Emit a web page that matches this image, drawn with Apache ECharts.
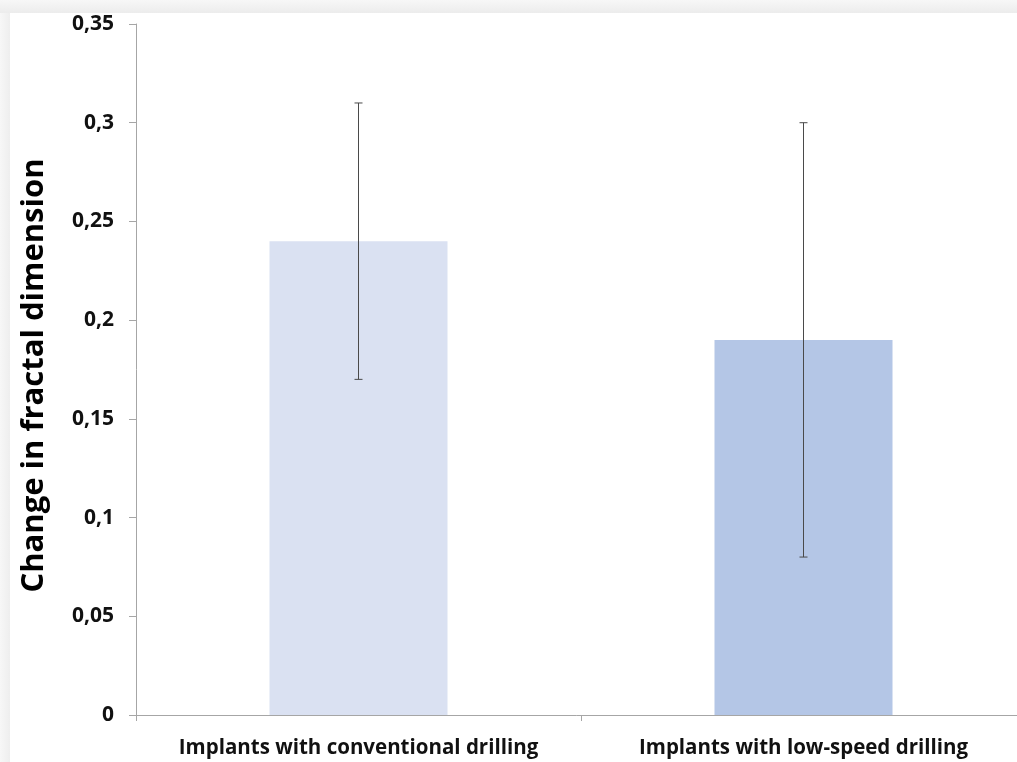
<!DOCTYPE html>
<html>
<head>
<meta charset="utf-8">
<script src="https://cdn.jsdelivr.net/npm/echarts@6/dist/echarts.min.js"></script>
<style>
html,body{margin:0;padding:0;background:#fff;}
#c{width:1017px;height:762px;}
</style>
</head>
<body>
<div id="c"></div>
<script>
const categories = ["Implants with conventional drilling", "Implants with low-speed drilling"];
const means = [0.24, 0.19];
const errLow = [0.17, 0.08];
const errHigh = [0.31, 0.30];
const barColors = ["#dae1f2", "#b4c6e6"];
const yTitle = "Change in fractal dimension";

const chart = echarts.init(document.getElementById('c'));
const font = "'Open Sans', 'DejaVu Sans', sans-serif";
chart.setOption({
  backgroundColor: '#ffffff',
  animation: false,
  graphic: [
    {type:'rect', shape:{x:0,y:0,width:1017,height:13}, style:{fill:new echarts.graphic.LinearGradient(0,0,0,1,[{offset:0,color:'#f7f7f7'},{offset:1,color:'#ececec'}])}, z:-1},
    {type:'rect', shape:{x:0,y:13,width:10,height:749}, style:{fill:new echarts.graphic.LinearGradient(0,0,1,0,[{offset:0,color:'#f7f7f7'},{offset:1,color:'#eeeeee'}])}, z:-1}
  ],
  grid: {left:136, top:24, width:890, bottom:47, containLabel:false, outerBoundsMode:'none'},
  xAxis: {
    type:'category', data:categories, boundaryGap:true,
    axisLine:{lineStyle:{color:'#a6a6a6', width:1}},
    axisTick:{show:true, length:6, lineStyle:{color:'#a6a6a6'}},
    axisLabel:{color:'#111', fontFamily:font, fontWeight:'bold', fontSize:20.5, margin:23, interval:0}
  },
  yAxis: {
    type:'value', min:0, max:0.35, interval:0.05,
    name: yTitle, nameLocation:'middle', nameGap:86, nameRotate:90,
    nameTextStyle:{color:'#000', fontFamily:font, fontWeight:'bold', fontSize:31, padding:[0,12,0,0]},
    axisLine:{show:true, lineStyle:{color:'#a6a6a6', width:1}},
    axisTick:{show:true, length:7, lineStyle:{color:'#a6a6a6'}},
    splitLine:{show:false},
    axisLabel:{color:'#111', fontFamily:font, fontWeight:'bold', fontSize:21, margin:22,
      formatter: v => String(+v.toFixed(2)).replace('.', ',')}
  },
  series: [
    {
      type:'bar', barWidth:'40%',
      data: means.map((v,i)=>({value:v, itemStyle:{color:barColors[i]}}))
    },
    {
      type:'custom',
      data: errLow.map((l,i)=>[i, l, errHigh[i]]),
      renderItem: function(params, api){
        const x = api.value(0);
        const lo = api.coord([x, api.value(1)]);
        const hi = api.coord([x, api.value(2)]);
        const cap = 4;
        const st = {stroke:'#4a4a4a', lineWidth:1};
        return {type:'group', children:[
          {type:'line', shape:{x1:lo[0], y1:lo[1], x2:hi[0], y2:hi[1]}, style:st},
          {type:'line', shape:{x1:hi[0]-cap, y1:hi[1], x2:hi[0]+cap, y2:hi[1]}, style:st},
          {type:'line', shape:{x1:lo[0]-cap, y1:lo[1], x2:lo[0]+cap, y2:lo[1]}, style:st}
        ]};
      },
      z:10
    }
  ]
});
</script>
</body>
</html>
